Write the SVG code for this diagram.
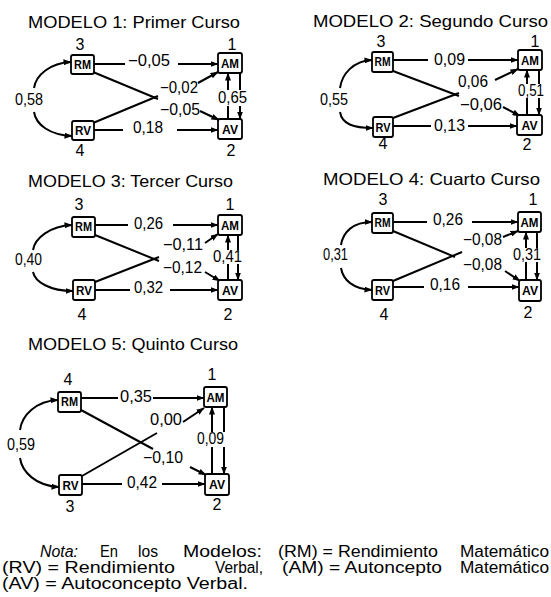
<svg xmlns="http://www.w3.org/2000/svg" width="551" height="597" viewBox="0 0 551 597">
  <defs>
    <marker id="ah" viewBox="0 0 8 6" refX="7.5" refY="3" markerWidth="8" markerHeight="6" markerUnits="userSpaceOnUse" orient="auto">
      <path d="M0,0 L8,3 L0,6 z" fill="#000"/>
    </marker>
  </defs>
  <style>
    text { font-family: "Liberation Sans", Arial, sans-serif; fill: #000; }
    .title { font-size: 16.5px; }
    .num { font-size: 16px; }
    .idx { font-size: 16px; text-anchor: middle; }
    .box rect { fill: #fff; stroke: #000; stroke-width: 1.8; }
    .box text { font-size: 12.5px; font-weight: bold; text-anchor: middle; }
    .edge { fill: none; stroke: #000; stroke-width: 2; }
    .arr { marker-end: url(#ah); }
    .note { font-size: 16px; }
  </style>
  <rect width="551" height="597" fill="#fff"/>

  <!-- Model 1 -->
  <g id="model1">
    <text class="title" x="28" y="28" textLength="212" lengthAdjust="spacingAndGlyphs">MODELO 1: Primer Curso</text>
    <g id="m1-connectors">
      <path class="edge" d="M94,64 H125"/>
      <path class="edge arr" d="M178,64 H218"/>
      <path class="edge" d="M94,130 H123"/>
      <path class="edge arr" d="M177,130 H218"/>
      <path class="edge" d="M93,72 L158,99"/>
      <path class="edge" d="M93,123 L158,96"/>
      <path class="edge arr" d="M198,83 L218,72"/>
      <path class="edge arr" d="M200,111 L219,120"/>
      <path class="edge" d="M228,119 V106"/>
      <path class="edge arr" d="M228,90 V73"/>
      <path class="edge" d="M240,73 V90"/>
      <path class="edge arr" d="M240,106 V119"/>
      <path class="edge arr" d="M34,88 C36,75 50,63 71,62"/>
      <path class="edge arr" d="M34,112 C36,125 50,135 72,136"/>
    </g>
    <g id="m1-RM" class="box"><rect x="71" y="55" width="23" height="19" rx="2"/><text x="82.5" y="69" textLength="17" lengthAdjust="spacingAndGlyphs">RM</text></g>
    <g id="m1-AM" class="box"><rect x="218" y="53" width="24" height="20" rx="2"/><text x="230" y="68" textLength="18" lengthAdjust="spacingAndGlyphs">AM</text></g>
    <g id="m1-RV" class="box"><rect x="72" y="121" width="22" height="19" rx="2"/><text x="83" y="135" textLength="16" lengthAdjust="spacingAndGlyphs">RV</text></g>
    <g id="m1-AV" class="box"><rect x="218" y="119" width="24" height="20" rx="2"/><text x="230" y="134" textLength="16" lengthAdjust="spacingAndGlyphs">AV</text></g>
    <text class="idx" x="80" y="50">3</text>
    <text class="idx" x="232" y="50">1</text>
    <text class="idx" x="80" y="156">4</text>
    <text class="idx" x="231" y="156">2</text>
    <text class="num" x="128" y="66" textLength="42" lengthAdjust="spacingAndGlyphs">−0,05</text>
    <text class="num" x="133" y="133" textLength="30" lengthAdjust="spacingAndGlyphs">0,18</text>
    <text class="num" x="160" y="93" textLength="38" lengthAdjust="spacingAndGlyphs">−0,02</text>
    <text class="num" x="160" y="115" textLength="40" lengthAdjust="spacingAndGlyphs">−0,05</text>
    <text class="num" x="218" y="103" textLength="29" lengthAdjust="spacingAndGlyphs">0,65</text>
    <text class="num" x="15" y="105" textLength="28" lengthAdjust="spacingAndGlyphs">0,58</text>
  </g>

  <!-- Model 2 -->
  <g id="model2">
    <text class="title" x="313" y="27" textLength="235" lengthAdjust="spacingAndGlyphs">MODELO 2: Segundo Curso</text>
    <g id="m2-connectors">
      <path class="edge" d="M393,60 H428"/>
      <path class="edge arr" d="M468,60 H518"/>
      <path class="edge" d="M393,126 H431"/>
      <path class="edge arr" d="M468,126 H517"/>
      <path class="edge" d="M393,71 L459,96"/>
      <path class="edge" d="M393,118 L459,93"/>
      <path class="edge arr" d="M495,80 L518,69"/>
      <path class="edge arr" d="M503,107 L520,116"/>
      <path class="edge" d="M527,115 V98"/>
      <path class="edge arr" d="M527,84 V70"/>
      <path class="edge" d="M539,70 V84"/>
      <path class="edge arr" d="M539,98 V115"/>
      <path class="edge arr" d="M340,88 C342,74 353,61 372,60"/>
      <path class="edge arr" d="M340,112 C342,124 353,128 373,128"/>
    </g>
    <g id="m2-RM" class="box"><rect x="372" y="52" width="21" height="20" rx="2"/><text x="382.5" y="66" textLength="16" lengthAdjust="spacingAndGlyphs">RM</text></g>
    <g id="m2-AM" class="box"><rect x="518" y="50" width="24" height="20" rx="2"/><text x="530" y="65" textLength="18" lengthAdjust="spacingAndGlyphs">AM</text></g>
    <g id="m2-RV" class="box"><rect x="373" y="117" width="20" height="20" rx="2"/><text x="383" y="132" textLength="15" lengthAdjust="spacingAndGlyphs">RV</text></g>
    <g id="m2-AV" class="box"><rect x="517" y="115" width="25" height="20" rx="2"/><text x="529.5" y="130" textLength="16" lengthAdjust="spacingAndGlyphs">AV</text></g>
    <text class="idx" x="381" y="47">3</text>
    <text class="idx" x="535" y="47">1</text>
    <text class="idx" x="383" y="149">4</text>
    <text class="idx" x="527" y="150">2</text>
    <text class="num" x="434" y="65" textLength="31" lengthAdjust="spacingAndGlyphs">0,09</text>
    <text class="num" x="434" y="131" textLength="31" lengthAdjust="spacingAndGlyphs">0,13</text>
    <text class="num" x="458" y="87" textLength="30" lengthAdjust="spacingAndGlyphs">0,06</text>
    <text class="num" x="460" y="110" textLength="42" lengthAdjust="spacingAndGlyphs">−0,06</text>
    <text class="num" x="518" y="96" textLength="26" lengthAdjust="spacingAndGlyphs">0,51</text>
    <text class="num" x="320" y="105" textLength="28" lengthAdjust="spacingAndGlyphs">0,55</text>
  </g>

  <!-- Model 3 -->
  <g id="model3">
    <text class="title" x="28" y="187" textLength="205" lengthAdjust="spacingAndGlyphs">MODELO 3: Tercer Curso</text>
    <g id="m3-connectors">
      <path class="edge" d="M95,225 H128"/>
      <path class="edge arr" d="M173,225 H218"/>
      <path class="edge" d="M95,290 H130"/>
      <path class="edge arr" d="M170,290 H218"/>
      <path class="edge" d="M95,235 L159,261"/>
      <path class="edge" d="M95,282 L159,257"/>
      <path class="edge arr" d="M205,243 L218,234"/>
      <path class="edge arr" d="M205,272 L220,281"/>
      <path class="edge" d="M228,280 V264"/>
      <path class="edge arr" d="M228,250 V235"/>
      <path class="edge" d="M238,235 V250"/>
      <path class="edge arr" d="M238,264 V280"/>
      <path class="edge arr" d="M33,250 C35,238 50,226 72,225"/>
      <path class="edge arr" d="M33,272 C35,282 50,291 73,291"/>
    </g>
    <g id="m3-RM" class="box"><rect x="72" y="217" width="23" height="20" rx="2"/><text x="83.5" y="231" textLength="17" lengthAdjust="spacingAndGlyphs">RM</text></g>
    <g id="m3-AM" class="box"><rect x="218" y="215" width="24" height="20" rx="2"/><text x="230" y="230" textLength="18" lengthAdjust="spacingAndGlyphs">AM</text></g>
    <g id="m3-RV" class="box"><rect x="73" y="280" width="22" height="20" rx="2"/><text x="84" y="295" textLength="16" lengthAdjust="spacingAndGlyphs">RV</text></g>
    <g id="m3-AV" class="box"><rect x="218" y="280" width="24" height="20" rx="2"/><text x="230" y="295" textLength="16" lengthAdjust="spacingAndGlyphs">AV</text></g>
    <text class="idx" x="79" y="210">3</text>
    <text class="idx" x="230" y="210">1</text>
    <text class="idx" x="82" y="320">4</text>
    <text class="idx" x="228" y="320">2</text>
    <text class="num" x="134" y="229" textLength="29" lengthAdjust="spacingAndGlyphs">0,26</text>
    <text class="num" x="134" y="293" textLength="29" lengthAdjust="spacingAndGlyphs">0,32</text>
    <text class="num" x="163" y="250" textLength="40" lengthAdjust="spacingAndGlyphs">−0,11</text>
    <text class="num" x="163" y="273" textLength="39" lengthAdjust="spacingAndGlyphs">−0,12</text>
    <text class="num" x="213" y="262" textLength="29" lengthAdjust="spacingAndGlyphs">0,41</text>
    <text class="num" x="15" y="265" textLength="27" lengthAdjust="spacingAndGlyphs">0,40</text>
  </g>

  <!-- Model 4 -->
  <g id="model4">
    <text class="title" x="323" y="185" textLength="217" lengthAdjust="spacingAndGlyphs">MODELO 4: Cuarto Curso</text>
    <g id="m4-connectors">
      <path class="edge" d="M393,222 H427"/>
      <path class="edge arr" d="M472,222 H518"/>
      <path class="edge" d="M393,287 H424"/>
      <path class="edge arr" d="M468,287 H519"/>
      <path class="edge" d="M393,231 L455,257"/>
      <path class="edge" d="M393,281 L462,252"/>
      <path class="edge arr" d="M503,237 L518,231"/>
      <path class="edge arr" d="M505,271 L520,281"/>
      <path class="edge" d="M526,280 V262"/>
      <path class="edge arr" d="M526,248 V232"/>
      <path class="edge" d="M537,232 V248"/>
      <path class="edge arr" d="M537,262 V280"/>
      <path class="edge arr" d="M341,245 C343,232 353,222 372,222"/>
      <path class="edge arr" d="M341,268 C343,280 353,289 372,290"/>
    </g>
    <g id="m4-RM" class="box"><rect x="372" y="213" width="21" height="20" rx="2"/><text x="382.5" y="227" textLength="16" lengthAdjust="spacingAndGlyphs">RM</text></g>
    <g id="m4-AM" class="box"><rect x="518" y="212" width="23" height="20" rx="2"/><text x="529.5" y="227" textLength="18" lengthAdjust="spacingAndGlyphs">AM</text></g>
    <g id="m4-RV" class="box"><rect x="372" y="280" width="21" height="20" rx="2"/><text x="382.5" y="295" textLength="15" lengthAdjust="spacingAndGlyphs">RV</text></g>
    <g id="m4-AV" class="box"><rect x="519" y="280" width="22" height="21" rx="2"/><text x="530" y="295" textLength="16" lengthAdjust="spacingAndGlyphs">AV</text></g>
    <text class="idx" x="383" y="205">3</text>
    <text class="idx" x="533" y="205">1</text>
    <text class="idx" x="384" y="320">4</text>
    <text class="idx" x="528" y="318">2</text>
    <text class="num" x="433" y="225" textLength="30" lengthAdjust="spacingAndGlyphs">0,26</text>
    <text class="num" x="430" y="290" textLength="30" lengthAdjust="spacingAndGlyphs">0,16</text>
    <text class="num" x="463" y="245" textLength="39" lengthAdjust="spacingAndGlyphs">−0,08</text>
    <text class="num" x="463" y="270" textLength="39" lengthAdjust="spacingAndGlyphs">−0,08</text>
    <text class="num" x="513" y="260" textLength="28" lengthAdjust="spacingAndGlyphs">0,31</text>
    <text class="num" x="323" y="260" textLength="25" lengthAdjust="spacingAndGlyphs">0,31</text>
  </g>

  <!-- Model 5 -->
  <g id="model5">
    <text class="title" x="28" y="350" textLength="210" lengthAdjust="spacingAndGlyphs">MODELO 5: Quinto Curso</text>
    <g id="m5-connectors">
      <path class="edge" d="M81,398 H118"/>
      <path class="edge arr" d="M153,398 H204"/>
      <path class="edge" d="M82,484 H122"/>
      <path class="edge arr" d="M162,484 H205"/>
      <path class="edge" d="M81,410 L153,449"/>
      <path class="edge" d="M82,476 L157,433"/>
      <path class="edge arr" d="M183,422 L204,408"/>
      <path class="edge arr" d="M190,467 L206,475"/>
      <path class="edge" d="M212,474 V447"/>
      <path class="edge arr" d="M212,432 V407"/>
      <path class="edge" d="M224,407 V432"/>
      <path class="edge arr" d="M224,447 V474"/>
      <path class="edge arr" d="M20,430 C22,415 36,401 58,400"/>
      <path class="edge arr" d="M20,458 C22,472 36,486 59,487"/>
    </g>
    <g id="m5-RM" class="box"><rect x="58" y="392" width="23" height="20" rx="2"/><text x="69.5" y="406" textLength="17" lengthAdjust="spacingAndGlyphs">RM</text></g>
    <g id="m5-AM" class="box"><rect x="204" y="387" width="23" height="20" rx="2"/><text x="215.5" y="402" textLength="18" lengthAdjust="spacingAndGlyphs">AM</text></g>
    <g id="m5-RV" class="box"><rect x="59" y="475" width="23" height="20" rx="2"/><text x="70.5" y="490" textLength="16" lengthAdjust="spacingAndGlyphs">RV</text></g>
    <g id="m5-AV" class="box"><rect x="205" y="474" width="24" height="21" rx="2"/><text x="217" y="489" textLength="16" lengthAdjust="spacingAndGlyphs">AV</text></g>
    <text class="idx" x="68" y="385">4</text>
    <text class="idx" x="212" y="380">1</text>
    <text class="idx" x="70" y="512">3</text>
    <text class="idx" x="217" y="510">2</text>
    <text class="num" x="120" y="402" textLength="32" lengthAdjust="spacingAndGlyphs">0,35</text>
    <text class="num" x="127" y="488" textLength="30" lengthAdjust="spacingAndGlyphs">0,42</text>
    <text class="num" x="150" y="425" textLength="32" lengthAdjust="spacingAndGlyphs">0,00</text>
    <text class="num" x="143" y="463" textLength="40" lengthAdjust="spacingAndGlyphs">−0,10</text>
    <text class="num" x="197" y="444" textLength="27" lengthAdjust="spacingAndGlyphs">0,09</text>
    <text class="num" x="7" y="450" textLength="28" lengthAdjust="spacingAndGlyphs">0,59</text>
  </g>

  <!-- Legend -->
  <g id="nota">
    <text class="note" x="40" y="557" font-style="italic" textLength="38" lengthAdjust="spacingAndGlyphs">Nota:</text>
    <text class="note" x="100" y="557" textLength="18" lengthAdjust="spacingAndGlyphs">En</text>
    <text class="note" x="138" y="557" textLength="20" lengthAdjust="spacingAndGlyphs">los</text>
    <text class="note" x="183" y="557" textLength="79" lengthAdjust="spacingAndGlyphs">Modelos:</text>
    <text class="note" x="278" y="557" textLength="160" lengthAdjust="spacingAndGlyphs">(RM) = Rendimiento</text>
    <text class="note" x="460" y="557" textLength="89" lengthAdjust="spacingAndGlyphs">Matemático</text>
    <text class="note" x="2" y="573" textLength="173" lengthAdjust="spacingAndGlyphs">(RV) = Rendimiento</text>
    <text class="note" x="215" y="573" textLength="48" lengthAdjust="spacingAndGlyphs">Verbal,</text>
    <text class="note" x="282" y="573" textLength="160" lengthAdjust="spacingAndGlyphs">(AM) = Autoncepto</text>
    <text class="note" x="460" y="573" textLength="89" lengthAdjust="spacingAndGlyphs">Matemático</text>
    <text class="note" x="2" y="589" textLength="246" lengthAdjust="spacingAndGlyphs">(AV) = Autoconcepto Verbal.</text>
  </g>
</svg>
